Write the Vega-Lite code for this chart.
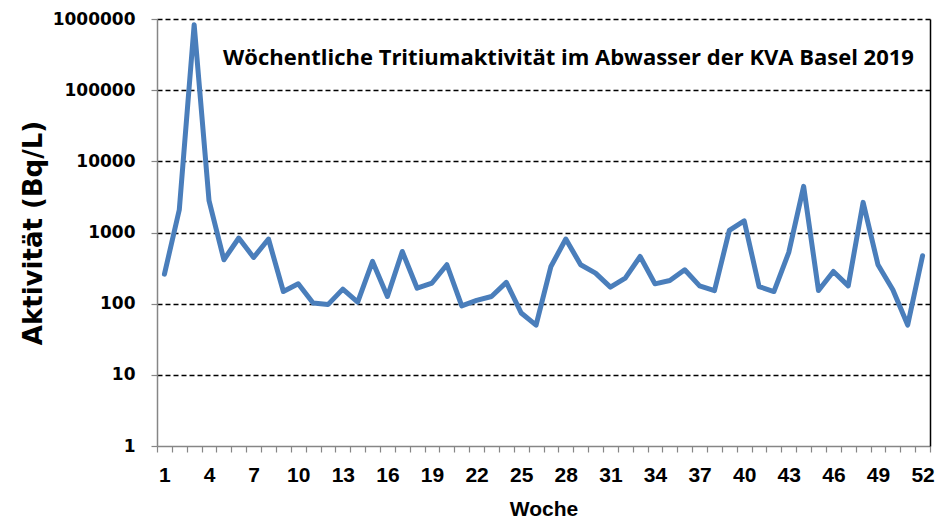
{
  "$schema": "https://vega.github.io/schema/vega-lite/v6.json",
  "width": 773,
  "height": 427,
  "autosize": {"type": "none"},
  "padding": {"left": 157, "top": 19, "right": 7, "bottom": 74},
  "background": "white",
  "view": {"stroke": null},
  "title": {
    "text": "Wöchentliche Tritiumaktivität im Abwasser der KVA Basel 2019",
    "font": "Open Sans",
    "fontWeight": "bold",
    "fontSize": 22,
    "color": "black",
    "anchor": "middle",
    "dx": 25,
    "dy": 64
  },
  "data": {
    "values": [
      {"Woche": 1, "Aktivitaet": 260},
      {"Woche": 2, "Aktivitaet": 2090},
      {"Woche": 3, "Aktivitaet": 830000},
      {"Woche": 4, "Aktivitaet": 2800},
      {"Woche": 5, "Aktivitaet": 414},
      {"Woche": 6, "Aktivitaet": 836},
      {"Woche": 7, "Aktivitaet": 446},
      {"Woche": 8, "Aktivitaet": 809},
      {"Woche": 9, "Aktivitaet": 148},
      {"Woche": 10, "Aktivitaet": 190},
      {"Woche": 11, "Aktivitaet": 102},
      {"Woche": 12, "Aktivitaet": 97},
      {"Woche": 13, "Aktivitaet": 160},
      {"Woche": 14, "Aktivitaet": 105},
      {"Woche": 15, "Aktivitaet": 392},
      {"Woche": 16, "Aktivitaet": 126},
      {"Woche": 17, "Aktivitaet": 541},
      {"Woche": 18, "Aktivitaet": 165},
      {"Woche": 19, "Aktivitaet": 195},
      {"Woche": 20, "Aktivitaet": 352},
      {"Woche": 21, "Aktivitaet": 93},
      {"Woche": 22, "Aktivitaet": 111},
      {"Woche": 23, "Aktivitaet": 126},
      {"Woche": 24, "Aktivitaet": 199},
      {"Woche": 25, "Aktivitaet": 74},
      {"Woche": 26, "Aktivitaet": 50},
      {"Woche": 27, "Aktivitaet": 333},
      {"Woche": 28, "Aktivitaet": 809},
      {"Woche": 29, "Aktivitaet": 352},
      {"Woche": 30, "Aktivitaet": 269},
      {"Woche": 31, "Aktivitaet": 171},
      {"Woche": 32, "Aktivitaet": 229},
      {"Woche": 33, "Aktivitaet": 460},
      {"Woche": 34, "Aktivitaet": 190},
      {"Woche": 35, "Aktivitaet": 212},
      {"Woche": 36, "Aktivitaet": 299},
      {"Woche": 37, "Aktivitaet": 178},
      {"Woche": 38, "Aktivitaet": 152},
      {"Woche": 39, "Aktivitaet": 1070},
      {"Woche": 40, "Aktivitaet": 1460},
      {"Woche": 41, "Aktivitaet": 174},
      {"Woche": 42, "Aktivitaet": 148},
      {"Woche": 43, "Aktivitaet": 525},
      {"Woche": 44, "Aktivitaet": 4450},
      {"Woche": 45, "Aktivitaet": 153},
      {"Woche": 46, "Aktivitaet": 283},
      {"Woche": 47, "Aktivitaet": 178},
      {"Woche": 48, "Aktivitaet": 2650},
      {"Woche": 49, "Aktivitaet": 352},
      {"Woche": 50, "Aktivitaet": 157},
      {"Woche": 51, "Aktivitaet": 50},
      {"Woche": 52, "Aktivitaet": 471}
    ]
  },
  "layer": [
    {
      "mark": {"type": "line", "color": "#4a7ebb", "strokeWidth": 5, "strokeJoin": "round", "strokeCap": "round"},
      "encoding": {
        "x": {
          "field": "Woche",
          "type": "quantitative",
          "scale": {"domain": [0.5, 52.5], "nice": false, "zero": false},
          "axis": {
            "title": "Woche",
            "titleFont": "Liberation Sans",
            "titleFontSize": 21,
            "titleFontWeight": "bold",
            "titleColor": "black",
            "titlePadding": 13,
            "values": [0.5,1.5,2.5,3.5,4.5,5.5,6.5,7.5,8.5,9.5,10.5,11.5,12.5,13.5,14.5,15.5,16.5,17.5,18.5,19.5,20.5,21.5,22.5,23.5,24.5,25.5,26.5,27.5,28.5,29.5,30.5,31.5,32.5,33.5,34.5,35.5,36.5,37.5,38.5,39.5,40.5,41.5,42.5,43.5,44.5,45.5,46.5,47.5,48.5,49.5,50.5,51.5,52.5],
            "labelExpr": "(datum.value + 0.5 <= 52 && (datum.value - 0.5) % 3 == 0) ? format(datum.value + 0.5, 'd') : ''",
            "labelOffset": 7.43,
            "labelFlush": false,
            "labelOverlap": false,
            "labelFont": "Liberation Sans",
            "labelFontSize": 21,
            "labelFontWeight": "bold",
            "labelColor": "black",
            "labelPadding": 12,
            "tickSize": 6,
            "tickColor": "#868686",
            "tickWidth": 1.2,
            "domainColor": "#868686",
            "domainWidth": 1.5,
            "grid": false
          }
        },
        "y": {
          "field": "Aktivitaet",
          "type": "quantitative",
          "scale": {"type": "log", "domain": [1, 1000000], "nice": false},
          "axis": {
            "title": "Aktivität (Bq/L)",
            "titleFont": "DejaVu Sans",
            "titleFontSize": 26,
            "titleFontWeight": "bold",
            "titleColor": "black",
            "titlePadding": 6,
            "values": [1, 10, 100, 1000, 10000, 100000, 1000000],
            "format": "d",
            "labelFont": "DejaVu Sans",
            "labelFontSize": 17,
            "labelFontWeight": "bold",
            "labelColor": "black",
            "labelPadding": 16,
            "labelFlush": false,
            "tickSize": 6,
            "tickColor": "#868686",
            "tickWidth": 1.2,
            "domainColor": "#868686",
            "domainWidth": 1.5,
            "grid": true,
            "gridColor": "black",
            "gridDash": [5, 3],
            "gridWidth": 1.3,
            "gridOpacity": {"condition": {"test": "datum.value == 1", "value": 0}, "value": 1}
          }
        }
      }
    },
    {
      "mark": {"type": "point", "opacity": 0},
      "encoding": {
        "y": {
          "field": "Aktivitaet",
          "type": "quantitative",
          "axis": {
            "orient": "right",
            "title": null,
            "labels": false,
            "ticks": false,
            "grid": false,
            "domainColor": "black",
            "domainWidth": 1.5
          }
        }
      }
    }
  ],
  "resolve": {"axis": {"y": "independent"}}
}
